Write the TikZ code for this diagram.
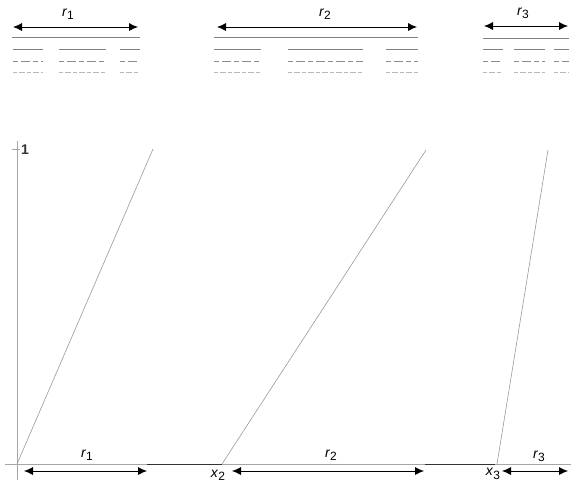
\documentclass[tikz,border=0pt]{standalone}
\usepackage{fontspec}
\setmainfont{Liberation Sans}
\usetikzlibrary{arrows.meta}
\tikzset{
  dimarrow/.style={{Latex[length=9pt,width=8pt]}-{Latex[length=9pt,width=8pt]}, line width=0.8pt, black},
  lbl/.style={font=\fontsize{14}{14}\selectfont, inner sep=0pt},
  rowsolid/.style={line width=0.9pt, gray},
  rowdash/.style={line width=0.8pt, gray!90, dash pattern=on 5pt off 3pt on 9pt off 3pt},
  rowfine/.style={line width=0.7pt, gray!55, dash pattern=on 4pt off 2pt on 6pt off 2pt},
  baseline/.style={line width=0.9pt, gray},
  axis/.style={line width=0.7pt, gray!70},
  ramp/.style={line width=0.6pt, gray!80},
}
\newcommand{\rr}[1]{\textit{r}\raisebox{-0.45ex}{\fontsize{12}{12}\selectfont #1}}
\newcommand{\xx}[1]{\textit{x}\raisebox{-0.45ex}{\fontsize{12}{12}\selectfont #1}}
\begin{document}
\begin{tikzpicture}[x=1pt,y=-1pt]
\useasboundingbox (0,0) rectangle (571,483);
% ---------- top groups ----------
% group 1
\coordinate (a1l) at (13,27); \coordinate (a1r) at (138,27);
\draw[dimarrow] (a1l) -- (a1r);
\node[lbl] (t1) at (68,14) {\rr{1}};
\draw[baseline] (12,37) -- (140,37);
\foreach \s/\e in {13/43, 59/106, 120/140}{
  \draw[rowsolid] (\s,49) -- (\e,49);
  \draw[rowdash] (\s,61) -- (\e,61);
  \draw[rowfine] (\s,72) -- (\e,72);
}
% group 2
\coordinate (a2l) at (217,27); \coordinate (a2r) at (417,27);
\draw[dimarrow] (a2l) -- (a2r);
\node[lbl] (t2) at (325,14) {\rr{2}};
\draw[baseline] (214,37) -- (418,37);
\foreach \s/\e in {214/261, 288/363, 386/418}{
  \draw[rowsolid] (\s,49) -- (\e,49);
  \draw[rowdash] (\s,61) -- (\e,61);
  \draw[rowfine] (\s,72) -- (\e,72);
}
% group 3
\coordinate (a3l) at (484,26); \coordinate (a3r) at (568,26);
\draw[dimarrow] (a3l) -- (a3r);
\node[lbl] (t3) at (523,13) {\rr{3}};
\draw[baseline] (483,38) -- (569,38);
\foreach \s/\e in {483/503, 514/545, 554/569}{
  \draw[rowsolid] (\s,49) -- (\e,49);
  \draw[rowdash] (\s,61) -- (\e,61);
  \draw[rowfine] (\s,72) -- (\e,72);
}
% ---------- plot ----------
\draw[axis] (17,141) -- (17,480);
\draw[axis] (5,464) -- (571,464);
\draw[axis] (12,149) -- (20,149);
\node[lbl, anchor=west, font=\fontsize{14}{14}\selectfont\bfseries, text=black!80] (one) at (21,150) {1};
% ramps
\coordinate (p0) at (17,464); \coordinate (q0) at (153,149);
\coordinate (p2) at (222,464); \coordinate (q2) at (426,150);
\coordinate (p3) at (497,464); \coordinate (q3) at (548,150);
\draw[ramp] (p0) -- (q0);
\draw[ramp] (p2) -- (q2);
\draw[ramp] (p3) -- (q3);
% darker axis segments between arrows
\draw[line width=0.6pt, black!80] (147,464) -- (222,464);
\draw[line width=0.6pt, black!80] (425,464) -- (495,464);
% bottom dimension arrows
\coordinate (b1l) at (24,471); \coordinate (b1r) at (147,471);
\coordinate (b2l) at (232,471); \coordinate (b2r) at (424,471);
\coordinate (b3l) at (502,471); \coordinate (b3r) at (568,471);
\draw[dimarrow] (b1l) -- (b1r);
\draw[dimarrow] (b2l) -- (b2r);
\draw[dimarrow] (b3l) -- (b3r);
\node[lbl] (l1) at (87,455) {\rr{1}};
\node[lbl] (l2) at (331,455) {\rr{2}};
\node[lbl] (l3) at (539,456) {\rr{3}};
\node[lbl] (x2) at (218,475) {\xx{2}};
\node[lbl] (x3) at (493,474) {\xx{3}};
\end{tikzpicture}
\end{document}
